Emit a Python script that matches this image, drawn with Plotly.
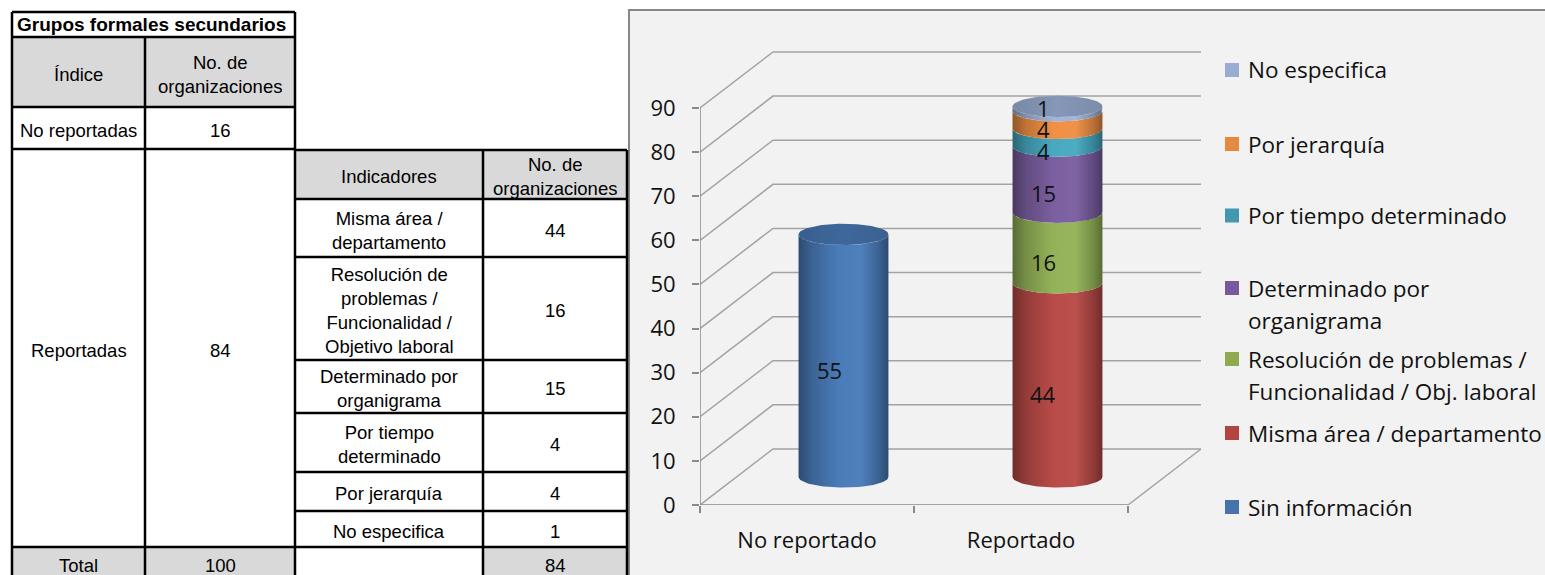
import numpy as np
import plotly.graph_objects as go

W, H = 1545, 575

# ---------------- chart data ----------------
categories = ["No reportado", "Reportado"]
sin_informacion = [55, 0]
misma_area = [0, 44]
resolucion_problemas = [0, 16]
determinado_organigrama = [0, 15]
por_tiempo = [0, 4]
por_jerarquia = [0, 4]
no_especifica = [0, 1]
value_ticks = [0, 10, 20, 30, 40, 50, 60, 70, 80, 90]

# stacking order, bottom to top
series_names = [
    "Sin información",
    "Misma área / departamento",
    "Resolución de problemas / Funcionalidad / Obj. laboral",
    "Determinado por organigrama",
    "Por tiempo determinado",
    "Por jerarquía",
    "No especifica",
]
series_values = [sin_informacion, misma_area, resolucion_problemas,
                 determinado_organigrama, por_tiempo, por_jerarquia, no_especifica]
legend_lines = [
    ["Sin información"],
    ["Misma área / departamento"],
    ["Resolución de problemas /", "Funcionalidad / Obj. laboral"],
    ["Determinado por", "organigrama"],
    ["Por tiempo determinado"],
    ["Por jerarquía"],
    ["No especifica"],
]

# ---------------- table data ----------------
table_title = "Grupos formales secundarios"
indice_header = "Índice"
count_header = "No. de<br>organizaciones"
indice_labels = ["No reportadas", "Reportadas", "Total"]
indice_counts = [16, 84, 100]
indicador_header = "Indicadores"
indicador_labels = [
    "Misma área /<br>departamento",
    "Resolución de<br>problemas /<br>Funcionalidad /<br>Objetivo laboral",
    "Determinado por<br>organigrama",
    "Por tiempo<br>determinado",
    "Por jerarquía",
    "No especifica",
]
indicador_counts = [44, 16, 15, 4, 4, 1]
indicador_total = 84

# ---------------- styling ----------------
series_colors = ["#4a7cb9", "#b94b48", "#94b358", "#7b5fa0", "#47a9c1", "#ef9044", "#9fb4da"]
legend_colors = ["#4673ab", "#b3443f", "#8fab50", "#775a9a", "#4298b0", "#e38a3f", "#98acd4"]
label_lift = [0, 0, 0, 0, 0, 5, 15]   # extra px lift for crowded labels at the top of the stack

CHART_FONT = "Open Sans"
TABLE_FONT = "Liberation Sans, Arial"

# pseudo-3D geometry (in axis units)
DEPTH_X = 0.341
DEPTH_Y = 12.7
RX = 0.21
RY = 2.4

# plot-area placement (pixels)
X0_PX, PX_PER_X = 700, 214
Y0_PX, PX_PER_Y = 505, (505 - 108) / 90
X_RANGE = [0, 2.45]
Y_RANGE = [0, 105]


def shade(hexcol, f):
    h = hexcol.lstrip("#")
    rgb = [int(h[i:i + 2], 16) for i in (0, 2, 4)]
    if f <= 1:
        rgb = [c * f for c in rgb]
    else:
        rgb = [c + (255 - c) * (f - 1) for c in rgb]
    return "#" + "".join(f"{max(0, min(255, int(round(c)))):02x}" for c in rgb)


def px(xp, yp):
    """pixel position -> paper coordinates"""
    return xp / W, 1 - yp / H


fig = go.Figure()

# ---------------- back wall, floor and gridlines ----------------
gx, gy = [], []
for v in value_ticks:
    gx += [0, DEPTH_X, 2 + DEPTH_X, None]
    gy += [v, v + DEPTH_Y, v + DEPTH_Y, None]
gx += [2, 2 + DEPTH_X, None]
gy += [0, DEPTH_Y, None]
fig.add_trace(go.Scatter(x=gx, y=gy, mode="lines", line=dict(color="#a3a3a3", width=1.5),
                         hoverinfo="skip", showlegend=False))
# front axis lines
fig.add_trace(go.Scatter(x=[0, 0, None, 0, 2], y=[0, value_ticks[-1], None, 0, 0], mode="lines",
                         line=dict(color="#8a8a8a", width=1.5), hoverinfo="skip", showlegend=False))

# ---------------- cylinders ----------------
t_half = np.linspace(np.pi, 2 * np.pi, 60)
t_full = np.linspace(0, 2 * np.pi, 120)
annotations = []
for ci, cat in enumerate(categories):
    cx = ci + 0.5 + DEPTH_X / 2
    base = 0.0
    top_series = None
    for si, vals in enumerate(series_values):
        v = vals[ci]
        if v <= 0:
            continue
        y0 = base + DEPTH_Y / 2
        y1 = base + v + DEPTH_Y / 2
        xs = np.concatenate([cx + RX * np.cos(t_half), cx + RX * np.cos(t_half[::-1])])
        ys = np.concatenate([y1 + RY * np.sin(t_half), y0 + RY * np.sin(t_half[::-1])])
        c = series_colors[si]
        fig.add_trace(go.Scatter(
            x=xs, y=ys, mode="lines", line=dict(width=0), fill="toself",
            fillgradient=dict(type="horizontal", colorscale=[
                [0, shade(c, 0.6)], [0.15, shade(c, 0.8)], [0.45, c], [0.7, shade(c, 1.03)],
                [0.9, shade(c, 0.78)], [1, shade(c, 0.6)]]),
            name=series_names[si], hoverinfo="skip", showlegend=False))
        annotations.append(dict(
            x=ci + 0.5, y=base + v / 2, xref="x", yref="y", text=str(v), showarrow=False,
            xshift=22, yshift=14 + label_lift[si],
            font=dict(family=CHART_FONT, size=22, color="#111111")))
        base += v
        top_series = si
    if top_series is not None:
        c = series_colors[top_series]
        ytop = base + DEPTH_Y / 2
        fig.add_trace(go.Scatter(
            x=cx + RX * np.cos(t_full), y=ytop + RY * np.sin(t_full), mode="lines",
            line=dict(width=0), fill="toself",
            fillgradient=dict(type="horizontal", colorscale=[
                [0, shade(c, 0.76)], [0.5, shade(c, 0.84)], [1, shade(c, 0.78)]]),
            hoverinfo="skip", showlegend=False))

# ---------------- shapes: chart frame, table, legend keys ----------------
shapes = []


def rect_px(x0, y0, x1, y1, fill, line_color=None, line_width=0, layer="below"):
    a, b = px(x0, y0)
    c, d = px(x1, y1)
    shapes.append(dict(type="rect", xref="paper", yref="paper", x0=a, y0=d, x1=c, y1=b,
                       fillcolor=fill, layer=layer,
                       line=dict(color=line_color or fill, width=line_width)))


def line_px(x0, y0, x1, y1, width=2.5, color="#000000"):
    a, b = px(x0, y0)
    c, d = px(x1, y1)
    shapes.append(dict(type="line", xref="paper", yref="paper", x0=a, y0=b, x1=c, y1=d,
                       layer="above", line=dict(color=color, width=width)))


# chart frame
rect_px(629, 10, 1560, 590, "#f2f2f2", "#878787", 2)

# table 1 (Índice)
T1_L, T1_M, T1_R = 12, 145, 295
T1_ROWS = [12, 37, 107, 149, 547, 579]
rect_px(T1_L, T1_ROWS[1], T1_R, T1_ROWS[2], "#d9d9d9")
rect_px(T1_L, T1_ROWS[4], T1_R, 590, "#d9d9d9")
for y in T1_ROWS[:-1]:
    line_px(T1_L, y, T1_R, y)
line_px(T1_L, T1_ROWS[0], T1_L, 590)
line_px(T1_R, T1_ROWS[0], T1_R, 590)
line_px(T1_M, T1_ROWS[1], T1_M, 590)

# table 2 (Indicadores)
T2_L, T2_M, T2_R = 295, 483, 627
T2_ROWS = [150, 199, 257, 360, 413, 472, 511, 547, 579]
rect_px(T2_L, T2_ROWS[0], T2_R, T2_ROWS[1], "#d9d9d9")
rect_px(T2_M, T2_ROWS[-2], T2_R, 590, "#d9d9d9")
for y in T2_ROWS[:-1]:
    line_px(T2_L, y, T2_R, y)
line_px(T2_M, T2_ROWS[0], T2_M, 590)
line_px(T2_R, T2_ROWS[0], T2_R, 590)


def text_px(xp, yp, text, size=18.5, anchor="center", family=TABLE_FONT, color="#000000"):
    a, b = px(xp, yp)
    annotations.append(dict(x=a, y=b, xref="paper", yref="paper", text=text, showarrow=False,
                            xanchor=anchor, yanchor="middle", align=anchor if anchor != "center" else "center",
                            font=dict(family=family, size=size, color=color)))


def mid(a, b):
    return (a + b) / 2 + 2


text_px(15, 25, f"<b>{table_title}</b>", size=19, anchor="left")
text_px((T1_L + T1_M) / 2, mid(T1_ROWS[1], T1_ROWS[2]), indice_header)
text_px((T1_M + T1_R) / 2, mid(T1_ROWS[1], T1_ROWS[2]), count_header)
for i, (lab, val) in enumerate(zip(indice_labels, indice_counts)):
    ya, yb = T1_ROWS[i + 2], T1_ROWS[i + 3]
    text_px((T1_L + T1_M) / 2, mid(ya, yb), lab)
    text_px((T1_M + T1_R) / 2, mid(ya, yb), str(val))

text_px((T2_L + T2_M) / 2, mid(T2_ROWS[0], T2_ROWS[1]), indicador_header)
text_px((T2_M + T2_R) / 2, mid(T2_ROWS[0], T2_ROWS[1]), count_header)
for i, (lab, val) in enumerate(zip(indicador_labels, indicador_counts)):
    ya, yb = T2_ROWS[i + 1], T2_ROWS[i + 2]
    text_px((T2_L + T2_M) / 2, mid(ya, yb), lab)
    text_px((T2_M + T2_R) / 2, mid(ya, yb), str(val))
text_px((T2_M + T2_R) / 2, mid(T2_ROWS[-2], T2_ROWS[-1]), str(indicador_total))

# legend (top entry is the top of the stack)
LEG_Y = [70, 144, 215.5, 288, 359, 433, 507]
LEG_LINE = 32
for k, si in enumerate(range(len(series_names) - 1, -1, -1)):
    y = LEG_Y[k]
    rect_px(1225, y - 7, 1239, y + 7, legend_colors[si], layer="above")
    for j, ln in enumerate(legend_lines[si]):
        text_px(1246, y + j * LEG_LINE, ln, size=22.5, anchor="left", family=CHART_FONT,
                color="#111111")

fig.update_layout(
    width=W, height=H,
    margin=dict(l=0, r=0, t=0, b=0, autoexpand=False),
    paper_bgcolor="#ffffff",
    plot_bgcolor="rgba(0,0,0,0)",
    showlegend=False,
    shapes=shapes,
    annotations=annotations,
    xaxis=dict(
        domain=[X0_PX / W, (X0_PX + (X_RANGE[1] - X_RANGE[0]) * PX_PER_X) / W],
        range=X_RANGE, showgrid=False, zeroline=False, showline=False, automargin=False,
        tickmode="array", tickvals=[0.5, 1.5], ticktext=categories, ticks="",
        ticklabelstandoff=20,
        tickfont=dict(family=CHART_FONT, size=22, color="#111111"),
        minor=dict(tickmode="array", tickvals=[0, 1, 2], ticks="outside", ticklen=7,
                   tickcolor="#8a8a8a", tickwidth=1.5),
        fixedrange=True,
    ),
    yaxis=dict(
        domain=[(H - Y0_PX) / H, (H - Y0_PX + (Y_RANGE[1] - Y_RANGE[0]) * PX_PER_Y) / H],
        range=Y_RANGE, showgrid=False, zeroline=False, showline=False, automargin=False,
        tickmode="array", tickvals=value_ticks, ticks="outside", ticklen=7,
        tickcolor="#8a8a8a", tickwidth=1.5, ticklabelstandoff=12,
        tickfont=dict(family=CHART_FONT, size=22, color="#111111"),
        fixedrange=True,
    ),
)

fig.write_html("out.html", config={"displayModeBar": False})
